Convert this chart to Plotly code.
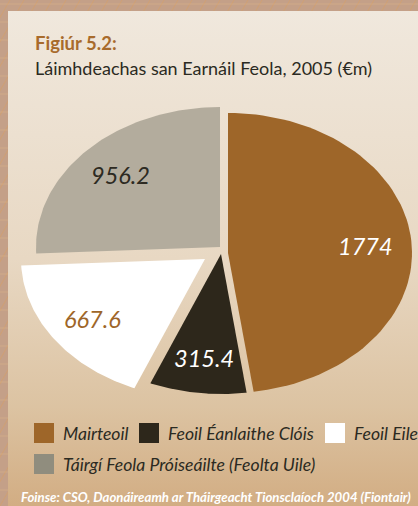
import numpy as np
import plotly.graph_objects as go

# ---- data ----
categories = ["Mairteoil", "Feoil Éanlaithe Clóis", "Feoil Eile",
              "Táirgí Feola Próiseáilte (Feolta Uile)"]
values = [1774, 315.4, 667.6, 956.2]
value_labels = ["1774", "315.4", "667.6", "956.2"]

title_text = "Figiúr 5.2:"
subtitle_text = "Láimhdeachas san Earnáil Feola, 2005 (€m)"
source_text = "Foinse: CSO, Daonáireamh ar Tháirgeacht Tionsclaíoch 2004 (Fiontair)"

# ---- style ----
W, H = 418, 506
FONT = "Lato"
slice_colors = ["#9e6629", "#2d271b", "#ffffff", "#b3ac9d"]
legend_colors = ["#9e6629", "#2d271b", "#ffffff", "#908d7e"]
label_colors = ["#ffffff", "#ffffff", "#9e6629", "#2d2a22"]
TEXT_DARK = "#2b2a22"
CX, CY, RX, RY = 222, 253, 184, 140
shifts = [(6, 0), (-1, 1), (-17, 6), (-2, -6)]
LABEL_R = 0.75
legend_pos = [(34, 433), (139, 433), (325, 433), (34, 464)]
SQ = 20

fig = go.Figure()

# panel with vertical gradient
fig.add_trace(go.Scatter(
    x=[8, W, W, 8, 8], y=[11, 11, H, H, 11], mode="lines", fill="toself",
    line=dict(width=0), hoverinfo="skip", showlegend=False,
    fillgradient=dict(type="vertical", start=11, stop=H,
                      colorscale=[[0, "#f0e8dd"], [0.5, "#e8d8c3"],
                                  [0.8, "#dcc3a2"], [1, "#d2ad83"]])))

total = float(sum(values))
start = 90.0
for i, v in enumerate(values):
    sweep = v / total * 360.0
    t = np.radians(np.linspace(start, start - sweep, 80))
    dx, dy = shifts[i]
    ox, oy = CX + dx, CY + dy
    xs = np.concatenate([[ox], ox + RX * np.cos(t), [ox]])
    ys = np.concatenate([[oy], oy - RY * np.sin(t), [oy]])
    fig.add_trace(go.Scatter(x=xs, y=ys, mode="lines", fill="toself",
                             fillcolor=slice_colors[i], line=dict(width=0),
                             hoverinfo="skip", showlegend=False, name=categories[i]))
    mid = np.radians(start - sweep / 2)
    fig.add_annotation(x=ox + LABEL_R * RX * np.cos(mid), y=oy - LABEL_R * RY * np.sin(mid),
                       text="<i>%s</i>" % value_labels[i], showarrow=False,
                       font=dict(family=FONT, size=23.5, color=label_colors[i]),
                       xanchor="center", yanchor="middle")
    start -= sweep

# border pattern lines
shapes = []
for k in range(-30, 60):
    x0 = k * 14
    shapes.append(dict(type="line", xref="x", yref="y", x0=x0, y0=H, x1=x0 + 290, y1=0,
                       line=dict(color="rgba(222,160,90,0.45)", width=1), layer="below"))
for yy in range(4, H, 18):
    shapes.append(dict(type="line", xref="x", yref="y", x0=0, y0=yy, x1=W, y1=yy,
                       line=dict(color="rgba(230,190,140,0.35)", width=1), layer="below"))

# legend
for i, cat in enumerate(categories):
    lx, ly = legend_pos[i]
    shapes.append(dict(type="rect", xref="x", yref="y", x0=lx, x1=lx + SQ,
                       y0=ly - SQ / 2, y1=ly + SQ / 2, fillcolor=legend_colors[i],
                       line=dict(width=0), layer="above"))
    fig.add_annotation(x=lx + SQ + 7, y=ly, text="<i>%s</i>" % cat, showarrow=False,
                       xanchor="left", yanchor="middle",
                       font=dict(family=FONT, size=17.6, color=TEXT_DARK))

fig.add_annotation(x=33, y=43, text="<b>%s</b>" % title_text, showarrow=False,
                   xanchor="left", yanchor="middle",
                   font=dict(family=FONT, size=18.5, color="#a86b2c"))
fig.add_annotation(x=33, y=68, text=subtitle_text, showarrow=False,
                   xanchor="left", yanchor="middle",
                   font=dict(family=FONT, size=18, color=TEXT_DARK))
fig.add_annotation(x=216, y=497, text="<b><i>%s</i></b>" % source_text, showarrow=False,
                   xanchor="center", yanchor="middle",
                   font=dict(family=FONT, size=13.2, color="#ffffff"))

fig.update_layout(
    width=W, height=H, margin=dict(l=0, r=0, t=0, b=0),
    paper_bgcolor="#c4a088", plot_bgcolor="rgba(0,0,0,0)",
    shapes=shapes,
    xaxis=dict(range=[0, W], visible=False, fixedrange=True),
    yaxis=dict(range=[H, 0], visible=False, fixedrange=True),
    showlegend=False,
)

fig.write_html("out.html", config={"displayModeBar": False},
               post_script="document.body.style.margin='0';")
